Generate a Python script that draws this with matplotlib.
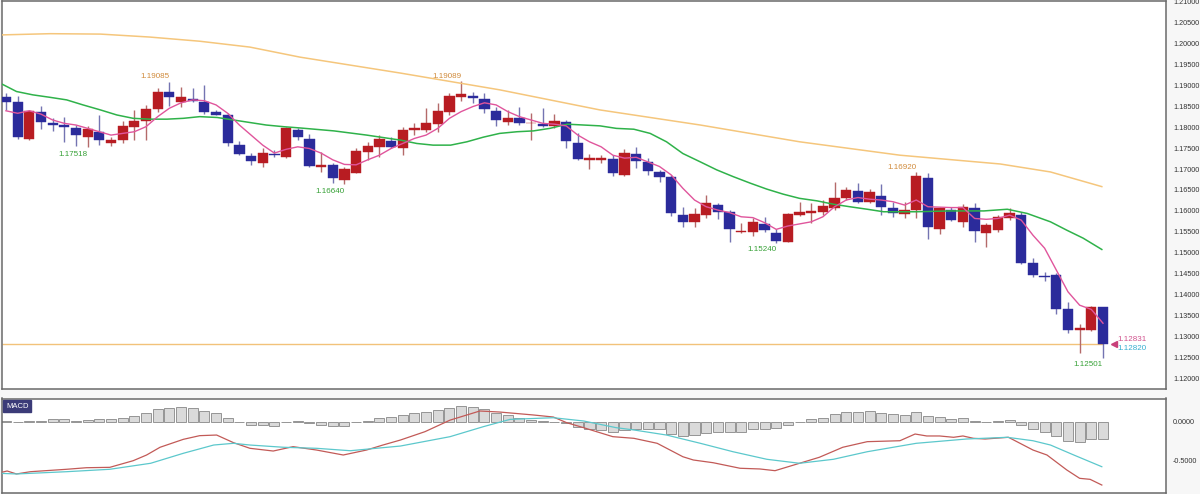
import matplotlib.pyplot as plt
import numpy as np

plt.rcParams['font.family'] = ['Liberation Sans', 'DejaVu Sans']

# daily candles
opens = [1.1873, 1.1859, 1.1772, 1.1837, 1.1809, 1.1805, 1.1797, 1.1777, 1.1788, 1.1763,
         1.1769, 1.1801, 1.1815, 1.1843, 1.1883, 1.1861, 1.1866, 1.1861, 1.1835, 1.1829,
         1.1757, 1.1731, 1.1714, 1.1737, 1.1728, 1.1793, 1.1771, 1.1706, 1.1710, 1.1674,
         1.1691, 1.1741, 1.1752, 1.1767, 1.1749, 1.1793, 1.1793, 1.1807, 1.1837, 1.1873,
         1.1874, 1.1866, 1.1839, 1.1813, 1.1822, 1.1809, 1.1807, 1.1803, 1.1813, 1.1761,
         1.1722, 1.1722, 1.1723, 1.1686, 1.1736, 1.1716, 1.1694, 1.1682, 1.1590, 1.1574,
         1.1590, 1.1614, 1.1597, 1.1549, 1.1550, 1.1569, 1.1548, 1.1527, 1.1590, 1.1594,
         1.1597, 1.1606, 1.1630, 1.1648, 1.1622, 1.1636, 1.1606, 1.1593, 1.1602, 1.1678,
         1.1558, 1.1602, 1.1574, 1.1608, 1.1548, 1.1554, 1.1582, 1.1590, 1.1475, 1.1445,
         1.1447, 1.1367, 1.1317, 1.1317, 1.1370]
highs = [1.1881, 1.1874, 1.1841, 1.1850, 1.1821, 1.1825, 1.1805, 1.1803, 1.1829, 1.1777,
         1.1815, 1.1841, 1.1853, 1.1893, 1.19085, 1.1896, 1.1893, 1.1901, 1.1841, 1.1833,
         1.1767, 1.1738, 1.1749, 1.1745, 1.1801, 1.1797, 1.1784, 1.1741, 1.1715, 1.1704,
         1.1749, 1.1765, 1.1781, 1.1777, 1.1801, 1.1809, 1.1845, 1.1857, 1.1881, 1.19089,
         1.1885, 1.1882, 1.1849, 1.1841, 1.1849, 1.1833, 1.1845, 1.1831, 1.1817, 1.1787,
         1.1735, 1.1733, 1.1733, 1.1747, 1.1753, 1.1726, 1.1698, 1.1686, 1.1609, 1.1606,
         1.1638, 1.1620, 1.1602, 1.1570, 1.1582, 1.1586, 1.1558, 1.1596, 1.1622, 1.1618,
         1.1626, 1.1670, 1.1658, 1.1667, 1.1652, 1.1664, 1.1621, 1.1622, 1.16920, 1.1690,
         1.1610, 1.1610, 1.1617, 1.1618, 1.1572, 1.1590, 1.1606, 1.1598, 1.1487, 1.1455,
         1.1451, 1.1383, 1.1329, 1.1373, 1.1371]
lows = [1.1841, 1.1771, 1.1770, 1.1795, 1.1791, 1.1765, 1.1755, 1.17518, 1.1757, 1.1755,
        1.1763, 1.1769, 1.1769, 1.1837, 1.1850, 1.1849, 1.1861, 1.1831, 1.1829, 1.1755,
        1.1733, 1.1710, 1.1706, 1.1728, 1.1726, 1.1769, 1.1705, 1.1694, 1.1666, 1.16640,
        1.1690, 1.1722, 1.1729, 1.1749, 1.1733, 1.1781, 1.1789, 1.1789, 1.1829, 1.1863,
        1.1857, 1.1834, 1.1803, 1.1805, 1.1805, 1.1769, 1.1801, 1.1797, 1.1749, 1.1722,
        1.1699, 1.1714, 1.1683, 1.1683, 1.1702, 1.1686, 1.1670, 1.1588, 1.1562, 1.1562,
        1.1582, 1.1580, 1.1526, 1.1547, 1.1540, 1.1550, 1.15240, 1.1525, 1.1588, 1.1570,
        1.1590, 1.1602, 1.1626, 1.1620, 1.1618, 1.1590, 1.1585, 1.1582, 1.1582, 1.1532,
        1.1545, 1.1576, 1.1562, 1.1526, 1.1513, 1.1550, 1.1578, 1.1473, 1.1442, 1.1433,
        1.1354, 1.1308, 1.1262, 1.1314, 1.12501]
closes = [1.1859, 1.1776, 1.1838, 1.1812, 1.1805, 1.1800, 1.1781, 1.1795, 1.1769, 1.1769,
          1.1803, 1.1815, 1.1843, 1.1885, 1.1873, 1.1871, 1.1863, 1.1835, 1.1830, 1.1761,
          1.1736, 1.1720, 1.1739, 1.1733, 1.1797, 1.1777, 1.1707, 1.1709, 1.1678, 1.1699,
          1.1744, 1.1755, 1.1772, 1.1752, 1.1793, 1.1797, 1.1809, 1.1839, 1.1874, 1.1878,
          1.1869, 1.1843, 1.1817, 1.1822, 1.1809, 1.1811, 1.1803, 1.1815, 1.1767, 1.1723,
          1.1726, 1.1726, 1.1690, 1.1739, 1.1719, 1.1695, 1.1682, 1.1594, 1.1574, 1.1592,
          1.1618, 1.1598, 1.1557, 1.1552, 1.1574, 1.1554, 1.1529, 1.1593, 1.1597, 1.1600,
          1.1612, 1.1632, 1.1650, 1.1622, 1.1644, 1.1610, 1.1596, 1.1602, 1.1683, 1.1562,
          1.1606, 1.1578, 1.1609, 1.1553, 1.1566, 1.1586, 1.1594, 1.1475, 1.1447, 1.1442,
          1.1367, 1.1317, 1.1320, 1.1371, 1.12820]

# short moving average (pink), one value per candle
ma_fast = [1.1839, 1.1833, 1.1839, 1.1831, 1.1817, 1.1809, 1.1805, 1.1797, 1.1789, 1.1781,
           1.1785, 1.1789, 1.1801, 1.1825, 1.1845, 1.1858, 1.1865, 1.1863, 1.1853, 1.1833,
           1.1805, 1.1781, 1.1757, 1.1738, 1.1747, 1.1753, 1.1749, 1.1738, 1.1722, 1.1711,
           1.1710, 1.1722, 1.1733, 1.1749, 1.1761, 1.1773, 1.1781, 1.1797, 1.1821, 1.1837,
           1.1849, 1.1858, 1.1853, 1.1837, 1.1825, 1.1817, 1.1809, 1.1807, 1.1803, 1.1781,
           1.1765, 1.1753, 1.1733, 1.1726, 1.1728, 1.1717, 1.1706, 1.1686, 1.1654, 1.1626,
           1.1610, 1.1602, 1.1596, 1.1586, 1.1584, 1.1572, 1.1556, 1.1564, 1.1569, 1.1574,
           1.1586, 1.1610, 1.1626, 1.1632, 1.1628, 1.1626, 1.1622, 1.1614, 1.1626, 1.1610,
           1.1609, 1.1608, 1.1608, 1.1582, 1.1580, 1.1582, 1.1590, 1.1578, 1.1542, 1.1511,
           1.1459, 1.1407, 1.1375, 1.1365, 1.1332]

# medium moving average (green), sampled along the line
ma_mid_x = [-0.5, 0.9, 2.3, 3.8, 5.2, 6.6, 8.1, 9.5, 10.9, 12.3, 13.8, 15.2, 16.6, 18.1, 19.5,
            20.9, 22.3, 23.8, 25.2, 28.1, 30.9, 33.8, 35.2, 36.6, 38.1, 39.5, 40.9, 42.3, 43.8,
            45.2, 46.6, 48.1, 49.5, 50.9, 52.3, 53.8, 55.2, 56.6, 58.0, 59.5, 60.9, 62.3, 63.8,
            65.2, 66.6, 68.0, 69.5, 70.9, 72.3, 73.8, 75.2, 78.0, 80.9, 83.8, 85.8, 87.5, 89.5,
            90.9, 92.3, 93.9]
ma_mid = [1.1905, 1.1885, 1.1877, 1.1871, 1.1865, 1.1853, 1.1841, 1.1829, 1.1821, 1.1819,
          1.1819, 1.1821, 1.1825, 1.1823, 1.1817, 1.1811, 1.1805, 1.1801, 1.1798, 1.1791,
          1.1781, 1.1769, 1.1761, 1.1757, 1.1757, 1.1765, 1.1776, 1.1785, 1.1789, 1.1791,
          1.1797, 1.1807, 1.1805, 1.1803, 1.1797, 1.1795, 1.1785, 1.1765, 1.1737, 1.1717,
          1.1698, 1.1682, 1.1666, 1.1652, 1.1640, 1.1630, 1.1624, 1.1616, 1.1610, 1.1604,
          1.1598, 1.1598, 1.1600, 1.1600, 1.1604, 1.1594, 1.1574, 1.1554, 1.1535, 1.1508]

# long moving average (yellow), sampled along the line
ma_slow_x = [-0.5, 3.8, 8.1, 12.3, 16.6, 20.9, 25.2, 33.8, 38.9, 42.3, 50.9, 59.5, 68.0,
             76.6, 85.2, 89.5, 93.9]
ma_slow = [1.2020, 1.2023, 1.2022, 1.2015, 1.2005, 1.1991, 1.1967, 1.1929, 1.1905, 1.1889,
           1.1841, 1.1805, 1.1765, 1.1733, 1.1712, 1.1693, 1.1658]

# MACD panel
macd_x = [-0.5, 0.1, 0.9, 2.1, 5.2, 6.9, 8.9, 10.9, 12.05, 13.2, 15.2, 16.6, 18.05, 19.5,
          20.9, 22.9, 24.6, 26.6, 28.9, 30.9, 32.3, 33.8, 35.9, 38.05, 40.6, 42.3, 45.2, 46.9,
          48.05, 49.5, 52.0, 53.8, 55.8, 58.0, 58.9, 60.6, 62.9, 64.6, 65.9, 68.0, 69.7, 71.7,
          73.8, 76.6, 77.9, 78.9, 80.0, 81.2, 82.0, 82.9, 83.9, 85.9, 88.0, 89.2, 90.9, 92.0,
          92.9, 93.9]
macd_vals = [-0.654, -0.632, -0.670, -0.641, -0.610, -0.590, -0.585, -0.500, -0.427, -0.328,
             -0.226, -0.179, -0.171, -0.269, -0.341, -0.376, -0.320, -0.363, -0.427, -0.363,
             -0.299, -0.235, -0.128, 0.020, 0.137, 0.124, 0.086, 0.060, -0.013, -0.077,
             -0.192, -0.213, -0.277, -0.449, -0.491, -0.526, -0.597, -0.606, -0.628, -0.533,
             -0.456, -0.328, -0.256, -0.244, -0.158, -0.183, -0.183, -0.200, -0.183, -0.213,
             -0.222, -0.200, -0.363, -0.427, -0.619, -0.726, -0.739, -0.812]
signal_x = [-0.5, 0.9, 5.2, 8.9, 12.4, 15.2, 17.8, 19.5, 20.9, 23.8, 26.6, 29.5, 33.8, 38.05,
            40.9, 43.2, 46.9, 49.5, 52.3, 53.8, 56.6, 59.5, 62.3, 65.2, 68.0, 70.9, 73.8, 78.0,
            82.3, 85.8, 88.0, 89.5, 91.5, 93.9]
signal_vals = [-0.662, -0.670, -0.641, -0.610, -0.533, -0.405, -0.299, -0.277, -0.299, -0.328,
               -0.341, -0.372, -0.312, -0.192, -0.064, 0.030, 0.051, 0.009, -0.077, -0.106,
               -0.171, -0.277, -0.385, -0.482, -0.533, -0.482, -0.385, -0.277, -0.222, -0.200,
               -0.244, -0.299, -0.427, -0.577]
hist_vals = [0.009, 0.0, 0.013, 0.013, 0.03, 0.03, 0.013, 0.026, 0.03, 0.03,
             0.047, 0.073, 0.107, 0.158, 0.175, 0.184, 0.175, 0.137, 0.115, 0.047,
             -0.004, -0.047, -0.047, -0.06, -0.004, 0.009, -0.021, -0.043, -0.056, -0.056,
             -0.004, 0.009, 0.047, 0.056, 0.085, 0.107, 0.128, 0.15, 0.179, 0.197,
             0.188, 0.158, 0.115, 0.081, 0.043, 0.026, 0.004, 0.0, -0.021, -0.073,
             -0.098, -0.107, -0.132, -0.107, -0.098, -0.098, -0.098, -0.154, -0.184, -0.175,
             -0.15, -0.132, -0.132, -0.132, -0.098, -0.09, -0.081, -0.038, -0.004, 0.03,
             0.051, 0.094, 0.128, 0.128, 0.137, 0.115, 0.094, 0.085, 0.128, 0.073,
             0.056, 0.03, 0.043, 0.004, -0.004, 0.004, 0.021, -0.047, -0.098, -0.132,
             -0.184, -0.248, -0.261, -0.226, -0.226]

# high / low markers
hl_idx = [7, 14, 29, 39, 66, 78, 94]
hl_vals = [1.17518, 1.19085, 1.16640, 1.19089, 1.15240, 1.16920, 1.12501]
hl_kind = ['low', 'high', 'low', 'high', 'low', 'high', 'low']

price_ticks = [1.120, 1.125, 1.130, 1.135, 1.140, 1.145, 1.150, 1.155, 1.160, 1.165,
               1.170, 1.175, 1.180, 1.185, 1.190, 1.195, 1.200, 1.205, 1.210]
macd_ticks = [0.0, -0.5]
bid_label = '1.12831'
ask_label = '1.12820'

frame_col = '#6a6a6a'

fig = plt.figure(figsize=(12, 4.94), dpi=100, facecolor='#f7f7f7')
ax = fig.add_axes([2 / 1200, 105 / 494, 1164 / 1200, 388 / 494])
axm = fig.add_axes([2 / 1200, 1.5 / 494, 1164 / 1200, 94 / 494])

idx = np.arange(len(closes))
o = np.array(opens)
c = np.array(closes)
h = np.array(highs)
l = np.array(lows)
up = c >= o
body_lo = np.minimum(o, c)
body_h = np.maximum(np.abs(c - o), 0.00004)
body_col = np.where(up, '#b81c22', '#2b2b9b')
wick_col = np.where(up, '#b46a6a', '#7474b2')

xlim = (-0.34, 99.4)

# candles
ax.vlines(idx, l, h, colors=wick_col, linewidth=1.0, zorder=2)
ax.bar(idx, body_h, bottom=body_lo, width=0.88, color=body_col, edgecolor=body_col,
       linewidth=0.3, zorder=3)

# moving averages and last price line
ax.plot(ma_slow_x, ma_slow, color='#f5c67c', linewidth=1.1, zorder=4)
ax.plot(ma_mid_x, ma_mid, color='#2fb24a', linewidth=1.1, zorder=4)
ax.plot(idx, ma_fast, color='#e0559c', linewidth=1.0, zorder=5)
ax.hlines(closes[-1], xlim[0], idx[-1], color='#f2c27a', linewidth=1.0, zorder=1)

for i, v, k in zip(hl_idx, hl_vals, hl_kind):
    if k == 'high':
        ax.annotate(f'{v:.5f}', xy=(i, v), xytext=(0, 1), textcoords='offset points',
                    ha='right', va='bottom', fontsize=5.8, color='#d08a3a')
    else:
        ax.annotate(f'{v:.5f}', xy=(i, v), xytext=(0, -2.5), textcoords='offset points',
                    ha='right', va='top', fontsize=5.8, color='#35a035')

# last price tags on the right
ax.plot(idx[-1] + 0.95, closes[-1], marker='<', color='#c8407a', markersize=4,
        clip_on=False, zorder=6)
ax.annotate(bid_label, xy=(idx[-1] + 1.25, closes[-1]), xytext=(0, 3.4),
            textcoords='offset points', ha='left', va='center', fontsize=5.8, color='#d0508c')
ax.annotate(ask_label, xy=(idx[-1] + 1.25, closes[-1]), xytext=(0, -3.0),
            textcoords='offset points', ha='left', va='center', fontsize=5.8, color='#34aed0')

ax.set_xlim(*xlim)
ax.set_ylim(1.1175, 1.2101)
ax.set_xticks([])
ax.yaxis.tick_right()
ax.set_yticks(price_ticks)
ax.set_yticklabels([f'{t:.5f}' for t in price_ticks])
ax.tick_params(axis='y', length=0, pad=5.0, labelsize=5.2, labelcolor='#333333')

# MACD panel
xm = np.arange(len(hist_vals))
axm.bar(xm, hist_vals, width=0.86, color='#dadada', edgecolor='#959595', linewidth=0.7, zorder=2)
axm.plot(macd_x, macd_vals, color='#c25a57', linewidth=0.9, zorder=3)
axm.plot(signal_x, signal_vals, color='#5cc8cc', linewidth=0.9, zorder=3)
axm.text(0.0035, 0.955, 'MACD', transform=axm.transAxes, ha='left', va='top', fontsize=5.5,
         color='white', bbox=dict(boxstyle='square,pad=0.35', fc='#3b3b78', ec='#3b3b78'))
axm.set_xlim(*xlim)
axm.set_ylim(-0.9077, 0.2974)
axm.set_xticks([])
axm.yaxis.tick_right()
axm.set_yticks(macd_ticks)
axm.set_yticklabels([f'{t:.4f}' for t in macd_ticks])
axm.tick_params(axis='y', length=0, pad=5.0, labelsize=5.2, labelcolor='#333333')

for a in (ax, axm):
    a.set_facecolor('white')
    for s in a.spines.values():
        s.set_color(frame_col)
        s.set_linewidth(1.1)

fig.savefig('out.png', dpi=100, facecolor=fig.get_facecolor())
